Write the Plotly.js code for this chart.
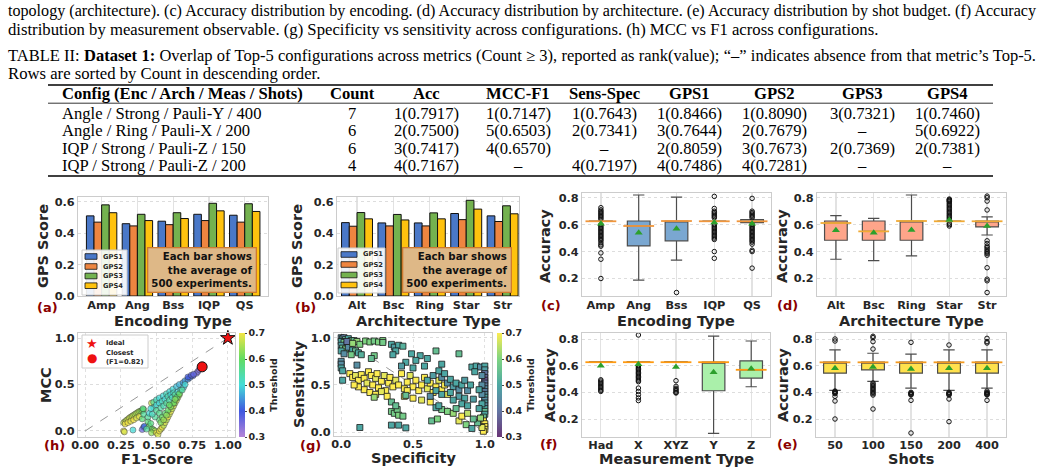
<!DOCTYPE html>
<html><head><meta charset="utf-8">
<script src="https://cdn.plot.ly/plotly-3.0.1.min.js"></script>
<style>
body{margin:0;width:1043px;height:475px;overflow:hidden;background:#fff;}
#plot{position:absolute;left:0;top:0;width:1043px;height:475px;}
.cap{position:absolute;left:8px;width:1028px;font-family:'Liberation Serif','Times New Roman',serif;font-size:16.7px;line-height:18px;color:#000;z-index:5;}
.just{text-align:justify;text-align-last:justify;}
</style></head><body>
<div id="plot"></div>
<div class="cap just" style="top:2px">topology (architecture). (c) Accuracy distribution by encoding. (d) Accuracy distribution by architecture. (e) Accuracy distribution by shot budget. (f) Accuracy</div>
<div class="cap" style="top:20.5px">distribution by measurement observable. (g) Specificity vs sensitivity across configurations. (h) MCC vs F1 across configurations.</div>
<div class="cap just" style="top:47px">TABLE II: <b>Dataset 1:</b> Overlap of Top-5 configurations across metrics (Count ≥ 3), reported as rank(value); “–” indicates absence from that metric’s Top-5.</div>
<div class="cap" style="top:64.5px">Rows are sorted by Count in descending order.</div>
<script>
// ---------------- DATA ----------------
const tblHeaders=['Config (Enc / Arch / Meas / Shots)','Count','Acc','MCC-F1','Sens-Spec','GPS1','GPS2','GPS3','GPS4'];
const tblConfig=['Angle / Strong / Pauli-Y / 400','Angle / Ring / Pauli-X / 200','IQP / Strong / Pauli-Z / 150','IQP / Strong / Pauli-Z / 200'];
const tblCount=['7','6','6','4'];
const tblAcc=['1(0.7917)','2(0.7500)','3(0.7417)','4(0.7167)'];
const tblMccF1=['1(0.7147)','5(0.6503)','4(0.6570)','–'];
const tblSensSpec=['1(0.7643)','2(0.7341)','–','4(0.7197)'];
const tblGps1=['1(0.8466)','3(0.7644)','2(0.8059)','4(0.7486)'];
const tblGps2=['1(0.8090)','2(0.7679)','3(0.7673)','4(0.7281)'];
const tblGps3=['3(0.7321)','–','2(0.7369)','–'];
const tblGps4=['1(0.7460)','5(0.6922)','2(0.7381)','–'];

const gpsNames=['GPS1','GPS2','GPS3','GPS4'];
const encCats=['Amp','Ang','Bss','IQP','QS'];
const encGps1=[0.51,0.46,0.476,0.52,0.514];
const encGps2=[0.47,0.446,0.454,0.48,0.47];
const encGps3=[0.58,0.52,0.53,0.59,0.587];
const encGps4=[0.53,0.48,0.493,0.542,0.538];
const archCats=['Alt','Bsc','Ring','Star','Str'];
const archGps1=[0.467,0.465,0.465,0.525,0.51];
const archGps2=[0.444,0.446,0.446,0.486,0.474];
const archGps3=[0.531,0.519,0.529,0.609,0.574];
const archGps4=[0.491,0.484,0.491,0.553,0.523];

// (c) accuracy by encoding
const encQ1=[0.625,0.442,0.48,0.625,0.615];
const encMed=[0.625,0.59,0.627,0.625,0.625];
const encQ3=[0.627,0.627,0.627,0.627,0.638];
const encLo=[0.625,0.188,0.336,0.625,0.615];
const encHi=[0.627,0.82,0.805,0.627,0.638];
const encMean=[0.607,0.54,0.57,0.615,0.607];
const encOut=[
 [0.726,0.71,0.70,0.69,0.68,0.67,0.66,0.65,0.64,0.60,0.59,0.58,0.57,0.56,0.55,0.54,0.53,0.52,0.51,0.50,0.49,0.48,0.465,0.45,0.44,0.39,0.343,0.2],
 [],
 [0.096],
 [0.81,0.72,0.70,0.69,0.68,0.67,0.66,0.65,0.60,0.59,0.58,0.57,0.56,0.55,0.54,0.53,0.52,0.51,0.50,0.49,0.40,0.35],
 [0.795,0.70,0.69,0.68,0.67,0.66,0.65,0.60,0.59,0.58,0.57,0.56,0.55,0.54,0.53,0.52,0.51,0.50,0.49,0.48,0.47,0.455,0.41,0.40,0.277]
];
// (d) accuracy by architecture
const archQ1=[0.484,0.484,0.484,0.625,0.583];
const archMed=[0.612,0.55,0.627,0.625,0.625];
const archQ3=[0.627,0.627,0.627,0.627,0.627];
const archLo=[0.343,0.333,0.368,0.625,0.523];
const archHi=[0.667,0.647,0.82,0.627,0.657];
const archMean=[0.558,0.54,0.56,0.635,0.59];
const archOut=[[],[],[],
 [0.79,0.785,0.78,0.775,0.77,0.76,0.75,0.74,0.73,0.72,0.71,0.70,0.69,0.68,0.67,0.66,0.65,0.64,0.61,0.60,0.59],
 [0.812,0.80,0.775,0.709,0.48,0.46,0.44,0.43,0.417,0.405,0.395,0.385,0.373,0.28,0.195,0.183,0.096]
];
// (f) accuracy by measurement
const measCats=['Had','X','XYZ','Y','Z'];
const measQ1=[0.626,0.626,0.626,0.412,0.507];
const measMed=[0.626,0.626,0.626,0.626,0.569];
const measQ3=[0.628,0.628,0.628,0.626,0.636];
const measLo=[0.626,0.626,0.626,0.092,0.442];
const measHi=[0.628,0.628,0.628,0.822,0.785];
const measMean=[0.599,0.61,0.59,0.55,0.576];
const measOut=[
 [0.494,0.485,0.475,0.465,0.455,0.445,0.435,0.425,0.415,0.407],
 [0.83,0.60,0.59,0.58,0.57,0.56,0.55,0.54,0.53,0.52,0.51,0.50,0.49,0.48,0.432,0.407,0.383,0.358,0.338],
 [0.487,0.445,0.43,0.42,0.41,0.40,0.395],
 [],[]
];
// (e) accuracy by shots
const shotCats=['50','100','150','200','400'];
const shotQ1=[0.544,0.568,0.544,0.544,0.544];
const shotMed=[0.625,0.625,0.625,0.625,0.625];
const shotQ3=[0.627,0.627,0.627,0.627,0.627];
const shotLo=[0.415,0.482,0.432,0.415,0.432];
const shotHi=[0.718,0.693,0.686,0.718,0.718];
const shotMean=[0.58,0.59,0.575,0.58,0.58];
const shotOut=[
 [0.80,0.785,0.41,0.405,0.40,0.395,0.39,0.37,0.335,0.2],
 [0.82,0.81,0.78,0.725,0.47,0.46,0.45,0.44,0.43,0.42,0.41,0.40,0.39,0.38,0.275],
 [0.775,0.40,0.395,0.39,0.385,0.38,0.34,0.095],
 [0.755,0.40,0.395,0.39,0.385,0.38,0.35,0.18],
 [0.805,0.78,0.77,0.41,0.40,0.395,0.39,0.385,0.38,0.34]
];
// (h) MCC vs F1
const hF1=[0.27,0.28,0.29,0.30,0.31,0.32,0.33,0.34,0.35,0.36,0.37,0.38,0.39,0.40,0.41,
0.28,0.30,0.32,0.34,0.36,0.38,0.27,0.275,0.335,0.40,0.41,0.405,0.41,0.40,0.415,
0.44,0.45,0.46,0.47,0.48,0.49,0.465,0.43,0.44,0.45,
0.50,0.51,0.52,0.53,0.54,0.55,0.56,0.57,0.58,0.59,0.60,0.61,0.62,0.63,0.64,0.65,0.66,
0.465,0.48,0.50,0.52,0.547,0.57,0.593,0.615,0.64,0.66,0.686,0.70,0.72,0.735,0.756,
0.72,0.744,0.78,0.79,0.80,0.76,
0.48,0.50,0.52,0.54,0.56,0.58,0.60,0.62,0.50,0.52,0.53,0.55,0.57,0.59,0.61,0.63,0.65,0.67,0.69,
0.52,0.54,0.56,0.58,0.60,0.62,0.64,0.66,0.49,0.47,0.46,0.53,0.55,0.57,0.59,0.63,0.68,0.70];
const hMCC=[0.09,0.10,0.115,0.125,0.14,0.15,0.16,0.17,0.18,0.19,0.20,0.21,0.215,0.22,0.23,
0.075,0.09,0.105,0.12,0.14,0.155,0.0,-0.01,0.01,0.13,0.18,0.24,0.04,0.015,0.05,
0.10,0.05,0.08,0.02,0.01,0.0,-0.02,0.02,0.15,0.19,
-0.02,-0.04,0.0,0.02,0.04,0.06,0.09,0.12,0.15,0.18,0.21,0.24,0.27,0.30,0.33,0.36,0.39,
0.30,0.31,0.335,0.355,0.378,0.40,0.424,0.45,0.478,0.50,0.52,0.54,0.557,0.575,0.594,
0.58,0.60,0.62,0.64,0.66,0.61,
0.25,0.28,0.30,0.32,0.34,0.37,0.39,0.41,0.22,0.19,0.25,0.27,0.30,0.33,0.36,0.39,0.42,0.44,0.47,
0.12,0.15,0.19,0.22,0.26,0.30,0.36,0.40,0.15,0.18,0.24,0.09,0.12,0.17,0.28,0.34,0.44,0.50];
const hThr=[0.66,0.68,0.66,0.67,0.68,0.66,0.67,0.65,0.66,0.64,0.66,0.64,0.63,0.62,0.6,
0.7,0.7,0.69,0.7,0.68,0.69,0.7,0.68,0.5,0.58,0.55,0.57,0.4,0.36,0.42,
0.58,0.6,0.57,0.6,0.62,0.65,0.63,0.55,0.55,0.5,
0.7,0.68,0.7,0.68,0.7,0.66,0.68,0.66,0.7,0.67,0.69,0.66,0.68,0.66,0.67,0.65,0.66,
0.67,0.55,0.52,0.5,0.5,0.52,0.5,0.5,0.48,0.47,0.45,0.45,0.44,0.42,0.4,
0.4,0.38,0.36,0.35,0.33,0.37,
0.52,0.5,0.5,0.52,0.5,0.53,0.5,0.52,0.55,0.56,0.54,0.53,0.55,0.54,0.52,0.55,0.5,0.5,0.48,
0.58,0.6,0.58,0.6,0.62,0.6,0.58,0.6,0.55,0.52,0.5,0.62,0.64,0.63,0.6,0.62,0.55,0.5];
const idealF1=[1.0], idealMCC=[1.0];
const closestF1=[0.82], closestMCC=[0.69];
const hDiagX=[0,1], hDiagY=[0,1];
// (g) Sensitivity vs Specificity
const gSpec=[0.0,0.01,0.02,0.03,0.05,0.07,0.09,0.11,0.0,0.02,0.04,0.06,0.0,0.01,0.03,0.05,0.08,0.10,0.12,0.14,0.0,0.02,0.07,0.04,0.08,0.13,
0.17,0.2,0.23,0.26,0.29,0.29, 0.23,0.21, 0.35,0.37,0.40,0.43,0.38,0.36,
0.49,0.55,0.60,0.66,0.82,0.52,0.45,0.70,0.42,0.58,0.50, 0.0,0.0,0.0,0.01,0.01, 0.11,
0.06,0.08,0.10,0.12,0.14,0.16,0.18,0.19,0.21,0.22,0.24,0.25,0.26,0.28,0.30,0.31,0.33,0.34,0.36,0.38,0.40,0.42,0.44,0.46,0.48,0.50,0.52,0.54,0.56,0.58,0.60,0.62,0.64,0.66,0.68,0.70,0.72,0.74,0.16,0.20,0.24,0.28,0.32,0.12,0.44,0.50,0.56,0.62,0.23,0.09,0.46,
0.60,0.64,0.68,0.70,0.72,0.74,0.76,0.78,0.80,0.82,0.84,0.86,0.88,0.90,0.66,0.70,0.76,0.82,0.86,0.62,0.84,0.88,0.92,0.78,0.91,0.94,0.97,0.93,
1.0,1.0,1.0,1.0,1.0,1.0,1.0,1.0,1.0,1.0,1.0,1.0,1.0,1.0,1.0,1.0,1.0,0.99,0.99,1.0,1.0,1.0,0.99,0.98,0.98,0.98,0.98,0.98,0.96,0.96,0.95,0.97,
0.35,0.37,0.39,0.40,0.43,0.35,0.38,0.45, 0.13,0.35,0.40,0.45,
0.63,0.67,0.70,0.74,0.82,0.84,0.87,0.91,0.92,0.88,0.66,0.68,0.78,0.80];
const gSens=[1.0,0.99,1.0,0.98,0.99,0.97,0.97,0.96,0.96,0.95,0.93,0.92,0.92,0.89,0.88,0.90,0.87,0.86,0.84,0.82,0.86,0.83,0.82,0.96,0.94,0.93,
0.965,0.955,0.965,0.955,0.97,0.95, 0.81,0.78, 0.93,0.9,0.92,0.91,0.86,0.82,
0.83,0.81,0.78,0.86,0.83,0.76,0.74,0.72,0.70,0.70,0.68, 0.75,0.72,0.68,0.65,0.55, 0.71,
0.62,0.58,0.60,0.55,0.61,0.57,0.52,0.64,0.60,0.50,0.57,0.62,0.47,0.54,0.60,0.44,0.52,0.58,0.48,0.55,0.50,0.62,0.46,0.53,0.60,0.48,0.55,0.44,0.50,0.58,0.46,0.52,0.42,0.48,0.55,0.45,0.50,0.40,0.45,0.42,0.40,0.43,0.38,0.48,0.38,0.36,0.34,0.32,0.37,0.50,0.44,
0.55,0.60,0.65,0.58,0.62,0.52,0.56,0.48,0.52,0.45,0.50,0.55,0.44,0.50,0.44,0.40,0.42,0.38,0.36,0.38,0.30,0.28,0.35,0.34,0.69,0.70,0.69,0.64,
0.70,0.66,0.62,0.58,0.55,0.52,0.49,0.46,0.43,0.40,0.37,0.34,0.31,0.28,0.25,0.22,0.19,0.16,0.12,0.09,0.06,0.03,0.01,0.05,0.50,0.40,0.30,0.60,0.45,0.25,0.10,0.15,
0.22,0.20,0.24,0.18,0.17,0.32,0.28,0.39, 0.05,0.075,0.075,0.046,
0.12,0.14,0.24,0.22,0.12,0.17,0.08,0.04,0.14,0.20,0.26,0.28,0.20,0.25];
const gThr=[0.45,0.5,0.42,0.55,0.5,0.6,0.55,0.62,0.5,0.58,0.62,0.5,0.48,0.55,0.6,0.45,0.5,0.55,0.5,0.52,0.5,0.45,0.58,0.4,0.62,0.6,
0.6,0.6,0.58,0.6,0.6,0.58, 0.58,0.55, 0.5,0.48,0.5,0.52,0.5,0.5,
0.5,0.5,0.5,0.55,0.55,0.5,0.5,0.5,0.48,0.5,0.5, 0.45,0.45,0.5,0.5,0.5, 0.45,
0.7,0.7,0.68,0.7,0.7,0.7,0.68,0.7,0.7,0.7,0.68,0.7,0.7,0.7,0.68,0.7,0.7,0.7,0.7,0.68,0.7,0.7,0.7,0.7,0.68,0.7,0.7,0.7,0.7,0.7,0.68,0.7,0.7,0.7,0.68,0.7,0.7,0.68,0.7,0.7,0.7,0.68,0.7,0.7,0.7,0.7,0.68,0.7,0.62,0.7,0.7,
0.5,0.48,0.5,0.45,0.5,0.45,0.5,0.48,0.5,0.45,0.5,0.48,0.45,0.5,0.5,0.5,0.5,0.48,0.5,0.45,0.5,0.5,0.48,0.5,0.5,0.5,0.45,0.5,
0.5,0.48,0.4,0.38,0.35,0.4,0.42,0.45,0.42,0.45,0.5,0.45,0.48,0.45,0.5,0.55,0.5,0.55,0.7,0.7,0.7,0.7,0.7,0.68,0.45,0.45,0.5,0.45,0.5,0.5,0.55,0.62,
0.58,0.58,0.58,0.6,0.58,0.55,0.55,0.55, 0.5,0.5,0.5,0.5,
0.55,0.6,0.58,0.6,0.68,0.7,0.6,0.5,0.55,0.65,0.5,0.5,0.62,0.55];
const gDiagX=[0,1], gDiagY=[1,0];
const thrTicks=[0.3,0.4,0.5,0.6,0.7];

// ---------------- STYLE / BUILD ----------------
const W=1043,H=475;
const PX=v=>v/W, PY=v=>1-v/H;
const FONT='DejaVu Sans', TXT='#262626';
const gpsColors=['#4a78c8','#ee8540','#74b24f','#ffc20e'];
const traces=[], annotations=[], shapes=[];

function xax(l,r,anchor,extra){return Object.assign({domain:[PX(l),PX(r)],anchor:anchor,showline:true,mirror:true,linecolor:'#cccccc',linewidth:1,zeroline:false,showgrid:true,gridcolor:'#e2e2e2',gridwidth:1.3,ticks:'',ticklabelstandoff:-2,tickfont:{family:FONT,size:11.3,weight:'bold',color:TXT},fixedrange:true},extra);}
function yax(t,b,anchor,extra){return Object.assign({domain:[PY(b),PY(t)],anchor:anchor,showline:true,mirror:true,linecolor:'#cccccc',linewidth:1,zeroline:false,showgrid:true,gridcolor:'#dddddd',griddash:'dot',gridwidth:1,ticks:'',tickfont:{family:FONT,size:11.3,weight:'bold',color:TXT},fixedrange:true},extra);}

const layout={width:W,height:H,margin:{l:0,r:0,t:0,b:0},paper_bgcolor:'#fff',plot_bgcolor:'#fff',showlegend:false,hovermode:false,
 barmode:'group',bargap:0.15,bargroupgap:0,font:{family:FONT,color:TXT},
 xaxis:xax(78,268,'y',{type:'category',range:[-0.66,4.65]}),
 yaxis:yax(197,296,'x',{range:[0,0.63],tickvals:[0,0.2,0.4,0.6],tickformat:'.1f'}),
 xaxis2:xax(337,519,'y2',{type:'category',range:[-0.55,4.45]}),
 yaxis2:yax(197,296,'x2',{range:[0,0.63],tickvals:[0,0.2,0.4,0.6],tickformat:'.1f'}),
 xaxis3:xax(582,771,'y3',{type:'category',range:[-0.5,4.5]}),
 yaxis3:yax(193,296,'x3',{range:[0.07,0.835],tickvals:[0.2,0.4,0.6,0.8],tickformat:'.1f'}),
 xaxis4:xax(817,1006,'y4',{type:'category',range:[-0.5,4.5]}),
 yaxis4:yax(193,296,'x4',{range:[0.07,0.835],tickvals:[0.2,0.4,0.6,0.8],tickformat:'.1f'}),
 xaxis5:xax(78,235,'y5',{range:[-0.05,1.05],tickvals:[0,0.25,0.5,0.75,1],tickformat:'.2f',griddash:'dot',gridcolor:'#e0e0e0',gridwidth:1,ticklabelstandoff:-3}),
 yaxis5:yax(333,437,'x5',{range:[-0.065,1.054],tickvals:[0,0.5,1],tickformat:'.1f'}),
 xaxis6:xax(334,492,'y6',{range:[-0.05,1.05],tickvals:[0,0.5,1],tickformat:'.1f',griddash:'dot',gridcolor:'#e0e0e0',gridwidth:1,ticklabelstandoff:-3}),
 yaxis6:yax(333,436,'x6',{range:[-0.04,1.05],tickvals:[0,0.5,1],tickformat:'.1f'}),
 xaxis7:xax(582,770,'y7',{type:'category',range:[-0.5,4.5],ticklabelstandoff:-3}),
 yaxis7:yax(333,437,'x7',{range:[0.065,0.845],tickvals:[0.2,0.4,0.6,0.8],tickformat:'.1f'}),
 xaxis8:xax(816,1006,'y8',{type:'category',range:[-0.5,4.5],ticklabelstandoff:-3}),
 yaxis8:yax(333,437,'x8',{range:[0.065,0.845],tickvals:[0.2,0.4,0.6,0.8],tickformat:'.1f'}),
 annotations:annotations,shapes:shapes};

// bars
const encSeries=[encGps1,encGps2,encGps3,encGps4], archSeries=[archGps1,archGps2,archGps3,archGps4];
encSeries.forEach((s,i)=>traces.push({type:'bar',x:encCats,y:s,name:gpsNames[i],xaxis:'x',yaxis:'y',marker:{color:gpsColors[i],line:{color:'#111',width:1}}}));
archSeries.forEach((s,i)=>traces.push({type:'bar',x:archCats,y:s,name:gpsNames[i],xaxis:'x2',yaxis:'y2',marker:{color:gpsColors[i],line:{color:'#111',width:1}}}));

// boxes
function boxSet(cats,q1,med,q3,lo,hi,mean,outl,ax,fill,medColor){
 const xa='x'+ax, ya='y'+ax;
 traces.push({type:'box',orientation:'v',x:cats,q1:q1,median:med,q3:q3,lowerfence:lo,upperfence:hi,xaxis:xa,yaxis:ya,fillcolor:fill,line:{color:'#4d4d4d',width:1.2},width:0.6,whiskerwidth:0.5,boxpoints:false});
 const ox=[],oy=[]; cats.forEach((c,i)=>outl[i].forEach(v=>{ox.push(c);oy.push(v);}));
 traces.push({type:'scatter',mode:'markers',x:ox,y:oy,xaxis:xa,yaxis:ya,marker:{symbol:'circle-open',size:4.5,color:'#111',line:{width:1,color:'#111'}},cliponaxis:false});
 traces.push({type:'scatter',mode:'markers',x:cats,y:med,xaxis:xa,yaxis:ya,marker:{symbol:'line-ew',size:22,color:medColor,line:{color:medColor,width:1.8}}});
 traces.push({type:'scatter',mode:'markers',x:cats,y:mean,xaxis:xa,yaxis:ya,marker:{symbol:'triangle-up',size:7,color:'#2ca02c'}});
}
boxSet(encCats,encQ1,encMed,encQ3,encLo,encHi,encMean,encOut,3,'#7aa7d1','#f0963c');
boxSet(archCats,archQ1,archMed,archQ3,archLo,archHi,archMean,archOut,4,'#fea58a','#f0aa35');
boxSet(measCats,measQ1,measMed,measQ3,measLo,measHi,measMean,measOut,7,'#aaf0aa','#ff9a10');
boxSet(shotCats,shotQ1,shotMed,shotQ3,shotLo,shotHi,shotMean,shotOut,8,'#ffe14d','#f39a20');

// (h)
const hScale=[[0,'#b585d8'],[0.25,'#4058e0'],[0.5,'#45dcd8'],[0.75,'#62dc62'],[1,'#f3e545']];
traces.push({type:'scatter',mode:'lines',x:hDiagX,y:hDiagY,xaxis:'x5',yaxis:'y5',line:{color:'#999',width:1,dash:'dash'}});
traces.push({type:'scatter',mode:'markers',x:hF1,y:hMCC,xaxis:'x5',yaxis:'y5',
 marker:{color:hThr,colorscale:hScale,cmin:0.3,cmax:0.7,size:6,opacity:0.75,line:{color:'#333',width:0.6},showscale:true,
 colorbar:{x:PX(239),xanchor:'left',y:PY(437),yanchor:'bottom',len:104/H,lenmode:'fraction',thickness:6,outlinewidth:0,xpad:0,ypad:0,
  tickvals:thrTicks,tickformat:'.1f',ticks:'outside',ticklen:2,tickcolor:'#444',tickfont:{family:FONT,size:9.5,weight:'bold',color:TXT},
  title:{text:'Threshold',side:'right',font:{family:FONT,size:9.5,weight:'bold',color:TXT}}}}});
traces.push({type:'scatter',mode:'markers',x:idealF1,y:idealMCC,xaxis:'x5',yaxis:'y5',cliponaxis:false,marker:{symbol:'star',size:11,color:'#ee1111',line:{color:'#111',width:1}}});
traces.push({type:'scatter',mode:'markers',x:closestF1,y:closestMCC,xaxis:'x5',yaxis:'y5',cliponaxis:false,marker:{symbol:'circle',size:10,color:'#ee1111',line:{color:'#111',width:1}}});

// (g)
const gScale=[[0,'#693476'],[0.25,'#6275a2'],[0.5,'#4da7a3'],[0.75,'#7ed481'],[1,'#fdec51']];
traces.push({type:'scatter',mode:'lines',x:gDiagX,y:gDiagY,xaxis:'x6',yaxis:'y6',line:{color:'#999',width:1,dash:'dash'}});
traces.push({type:'scatter',mode:'markers',x:gSpec,y:gSens,xaxis:'x6',yaxis:'y6',
 marker:{symbol:'square',color:gThr,colorscale:gScale,cmin:0.3,cmax:0.7,size:6,line:{color:'#1a1a1a',width:0.8},showscale:true,
 colorbar:{x:PX(497),xanchor:'left',y:PY(437),yanchor:'bottom',len:104/H,lenmode:'fraction',thickness:5,outlinewidth:0,xpad:0,ypad:0,
  tickvals:thrTicks,tickformat:'.1f',ticks:'outside',ticklen:2,tickcolor:'#444',tickfont:{family:FONT,size:9.5,weight:'bold',color:TXT},
  title:{text:'Threshold',side:'right',font:{family:FONT,size:9.5,weight:'bold',color:TXT}}}}});

// ---------- annotations: table ----------
function ann(text,x,y,o){return Object.assign({text:text,x:PX(x),y:PY(y),xref:'paper',yref:'paper',showarrow:false,xanchor:'center',yanchor:'middle',font:{family:FONT,size:14.5,weight:'bold',color:TXT}},o||{});}
const serif={family:'Liberation Serif',size:16.6,color:'#000'};
const colX=[60,352,426,518,604,689,774,862,947];
const rowY=[113,130.5,148,165.5];
tblHeaders.forEach((h,i)=>annotations.push(ann(h,colX[i],93.5,{xanchor:i===0?'left':'center',font:Object.assign({},serif,{weight:'bold'})})));
const cols=[tblConfig,tblCount,tblAcc,tblMccF1,tblSensSpec,tblGps1,tblGps2,tblGps3,tblGps4];
cols.forEach((col,i)=>col.forEach((v,r)=>annotations.push(ann(v,colX[i],rowY[r],{xanchor:i===0?'left':'center',font:serif}))));
function hline(y,w){shapes.push({type:'line',xref:'paper',yref:'paper',x0:PX(48),x1:PX(993),y0:PY(y),y1:PY(y),line:{color:'#000',width:w}});}
hline(85,1.4);hline(103.2,0.8);hline(176,1.4);

// axis titles
const tt=(t,x,y)=>annotations.push(ann(t,x,y));
const yt=(t,x,y)=>annotations.push(ann(t,x,y,{textangle:-90}));
tt('Encoding Type',173,321);tt('Architecture Type',428,321);tt('Encoding Type',676,321);tt('Architecture Type',911,321);
tt('F1-Score',157,459);tt('Specificity',413,458);tt('Measurement Type',676,459);tt('Shots',911,459);
yt('GPS Score',43,246);yt('GPS Score',297,246);yt('Accuracy',545,246);yt('Accuracy',782,246);
yt('MCC',46,385);yt('Sensitivity',299,385);yt('Accuracy',550,385);yt('Accuracy',783,385);
// panel labels
const pl=(t,x,y)=>annotations.push(ann(t,x,y,{font:{family:FONT,size:13,weight:'bold',color:'#8b0000'}}));
pl('(a)',47,307);pl('(b)',305,307);pl('(c)',551,305);pl('(d)',787,305);
pl('(h)',54,445);pl('(g)',310,445);pl('(f)',549,444);pl('(e)',787,444);

// info boxes
const infoTxt='Each bar shows<br>the average of<br>500 experiments.';
[[201.5,269.5],[456.5,269.5]].forEach(p=>annotations.push(ann(infoTxt,p[0],p[1],{align:'right',bgcolor:'#deb887',bordercolor:'#cf7a30',borderwidth:1.3,borderpad:3,font:{family:FONT,size:10.2,weight:'bold',color:'#111'}})));

// manual legends
function rect(x0,y0,x1,y1,fill,lc,lw){shapes.push({type:'rect',layer:'above',xref:'paper',yref:'paper',x0:PX(x0),x1:PX(x1),y0:PY(y1),y1:PY(y0),fillcolor:fill,line:{color:lc,width:lw}});}
function gpsLegend(bx0,by0,bx1,by1,sx0,sx1,tx,ys){
 rect(bx0,by0,bx1,by1,'rgba(255,255,255,0.9)','#cccccc',1);
 gpsNames.forEach((n,i)=>{rect(sx0,ys[i]-2.8,sx1,ys[i]+2.8,gpsColors[i],'#111',0.8);
  annotations.push(ann(n,tx,ys[i],{xanchor:'left',font:{family:FONT,size:6.7,weight:'bold',color:TXT}}));});
}
gpsLegend(82,250,127,295,85,97,101,[256.5,266.5,276,285.7]);
gpsLegend(338,248,385,293,341,357,361,[254.5,264.5,275,285]);
rect(82,335,148,368,'rgba(255,255,255,0.9)','#cccccc',1);
annotations.push(ann('★',92,343,{font:{family:FONT,size:13,color:'#ee1111'}}));
annotations.push(ann('●',92,357.5,{font:{family:FONT,size:12,color:'#ee1111'}}));
annotations.push(ann('Ideal',104,343,{xanchor:'left',font:{family:FONT,size:6.7,weight:'bold',color:TXT}}));
annotations.push(ann('Closest<br>(F1=0.82)',104,357.5,{xanchor:'left',align:'left',font:{family:FONT,size:6.7,weight:'bold',color:TXT}}));

traces.forEach(t=>{if(t.showlegend===undefined)t.showlegend=false;t.hoverinfo='skip';});
Plotly.newPlot('plot',traces,layout,{staticPlot:true,displayModeBar:false});

// keep justified caption lines on one line
document.querySelectorAll('.just').forEach(el=>{let fs=16.7;while(el.offsetHeight>24&&fs>12){fs-=0.1;el.style.fontSize=fs+'px';}});
</script>
</body></html>
